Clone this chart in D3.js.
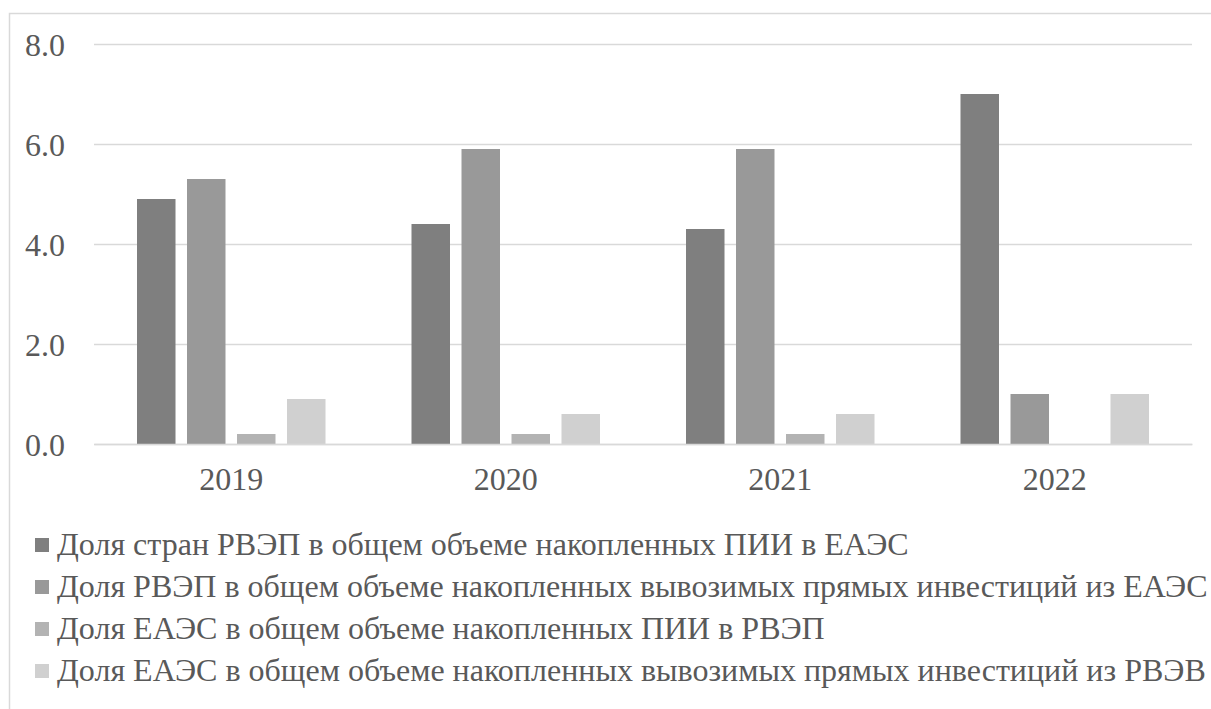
<!DOCTYPE html>
<html>
<head>
<meta charset="utf-8">
<script src="https://cdn.jsdelivr.net/npm/d3@7"></script>
<style>
  html, body { margin: 0; padding: 0; background: #fff; }
  svg { display: block; }
</style>
</head>
<body>
<svg id="chart" width="1211" height="709"></svg>
<script>
// Years on the category axis
const years = ["2019", "2020", "2021", "2022"];

// Series names (legend order)
const seriesNames = [
  "Доля стран РВЭП в общем объеме накопленных ПИИ в ЕАЭС",
  "Доля РВЭП в общем объеме накопленных вывозимых прямых инвестиций из ЕАЭС",
  "Доля ЕАЭС в общем объеме накопленных ПИИ в РВЭП",
  "Доля ЕАЭС в общем объеме накопленных вывозимых прямых инвестиций из РВЭВ"
];

// Values per series, one per year
const seriesA = [4.9, 4.4, 4.3, 7.0];
const seriesB = [5.3, 5.9, 5.9, 1.0];
const seriesC = [0.2, 0.2, 0.2, 0.0];
const seriesD = [0.9, 0.6, 0.6, 1.0];

// Value axis ticks
const yTicks = [0, 2, 4, 6, 8];

const seriesColors = ["#7f7f7f", "#999999", "#b3b3b3", "#d0d0d0"];
const series = [seriesA, seriesB, seriesC, seriesD];

const svg = d3.select("#chart");
const serif = '"Liberation Serif"';
const fontSize = "32px";
const textColor = "#595959";

// Outer chart frame (right and bottom edges run past the canvas)
svg.append("rect")
  .attr("x", 9.5).attr("y", 13.5)
  .attr("width", 1210).attr("height", 720)
  .attr("fill", "#fff")
  .attr("stroke", "#d9d9d9").attr("stroke-width", 1.5);

const plot = { left: 94, right: 1192, top: 44, bottom: 444 };

const x = d3.scaleBand().domain(years).range([plot.left, plot.right]).paddingInner(0).paddingOuter(0);
const y = d3.scaleLinear().domain([0, 8]).range([plot.bottom, plot.top]);

// Inner band for the four bars in each year
const inner = d3.scaleBand().domain(d3.range(series.length))
  .range([0, x.bandwidth()])
  .paddingInner(0.23)
  .paddingOuter(0.86);

// Gridlines and value labels
const yAxis = svg.append("g").attr("transform", `translate(${plot.left},0)`)
  .call(d3.axisLeft(y).tickValues(yTicks).tickFormat(d3.format(".1f"))
    .tickSize(-(plot.right - plot.left)).tickPadding(0));
yAxis.select(".domain").remove();
yAxis.selectAll(".tick line").attr("stroke", "#d9d9d9").attr("stroke-width", 1.5);
yAxis.selectAll(".tick text")
  .attr("x", -29)
  .attr("dy", "0.36em")
  .attr("fill", textColor);

// Bars
series.forEach((vals, si) => {
  svg.append("g").selectAll("rect")
    .data(vals)
    .join("rect")
    .attr("x", (d, i) => x(years[i]) + inner(si))
    .attr("y", d => y(d))
    .attr("width", inner.bandwidth())
    .attr("height", d => y(0) - y(d))
    .attr("fill", seriesColors[si]);
});

// Category axis
const xAxis = svg.append("g").attr("transform", `translate(0,${plot.bottom})`)
  .call(d3.axisBottom(x).tickSize(0));
xAxis.select(".domain").attr("stroke", "#d9d9d9").attr("stroke-width", 1.5);
xAxis.selectAll(".tick text")
  .attr("y", 46)
  .attr("dy", 0)
  .attr("fill", textColor);

// Legend
seriesNames.forEach((name, i) => {
  const base = 555 + i * 42;
  svg.append("rect")
    .attr("x", 35).attr("y", base - 17)
    .attr("width", 14).attr("height", 14)
    .attr("fill", seriesColors[i]);
  svg.append("text")
    .attr("class", "legend-label")
    .attr("x", 57).attr("y", base)
    .attr("fill", textColor)
    .text(name);
});

// Apply the serif face to every label; re-apply once the face is ready
function applyFont() {
  svg.selectAll("text")
    .style("font-family", serif)
    .style("font-size", fontSize);
}
applyFont();
if (document.fonts && document.fonts.load) {
  document.fonts.load(`${fontSize} ${serif}`, "Доля 2019 8.0").then(() => {
    svg.selectAll("text").style("font-family", null);
    void document.body.offsetHeight;
    applyFont();
  });
}
</script>
</body>
</html>
